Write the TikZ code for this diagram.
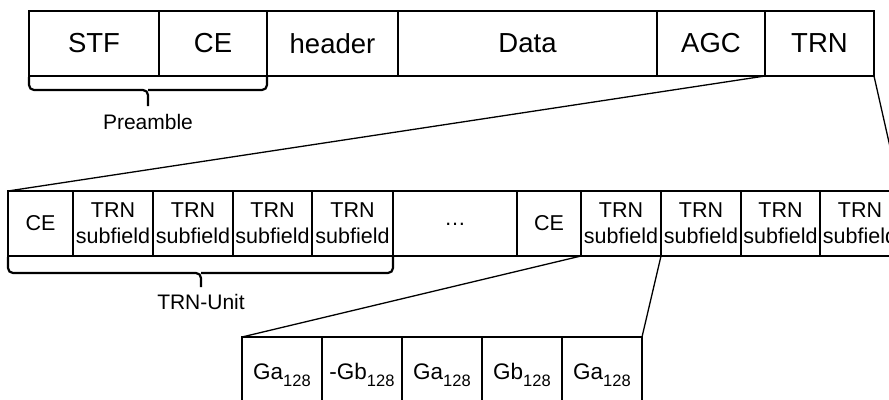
\documentclass[tikz,border=0pt]{standalone}
\usepackage{fontspec}
\setmainfont{Liberation Sans}
\newcommand{\sbs}[1]{\raisebox{-6.5pt}{\fontsize{16.5}{16.5}\selectfont #1}}
\begin{document}
\begin{tikzpicture}[x=1pt,y=-1pt,
  cell/.style={draw, line width=1.1pt, inner sep=0pt, outer sep=0pt,
    anchor=north west, minimum height=#1pt},
  topcell/.style={cell=65, font=\fontsize{27.5}{30}\selectfont},
  midcell/.style={cell=65, font=\fontsize{21.5}{26}\selectfont, align=center},
  lowcell/.style={cell=76, minimum width=80pt, font=\fontsize{22.5}{26}\selectfont},
  link/.style={line width=1.3pt},
  bracket/.style={line width=2.2pt, rounded corners=5pt},
  tag/.style={font=\fontsize{21}{24}\selectfont}]
\useasboundingbox (0,0) rectangle (889,399);
\clip (0,0) rectangle (889,399);

% frame
\node[topcell, minimum width=130pt] (stf)  at (29,11)  {STF};
\node[topcell, minimum width=108pt] (ce)   at (159,11) {CE};
\node[topcell, minimum width=131pt] (hdr)  at (267,11) {header};
\node[topcell, minimum width=259pt] (data) at (398,11) {Data};
\node[topcell, minimum width=108pt] (agc)  at (657,11) {AGC};
\node[topcell, minimum width=109pt] (trn)  at (765,11) {TRN};

% preamble bracket
\draw[bracket] (stf.south west) ++(0,1) |- (148,90) -- (148,106);
\draw[bracket] (ce.south east) ++(0,1) |- (148,90);
\node[tag] (pre) at (148,122) {Preamble};

% TRN field
\node[midcell, minimum width=65pt]  (mce1) at (8,191)   {CE};
\node[midcell, minimum width=80pt]  (s1)   at (73,191)  {TRN\\subfield};
\node[midcell, minimum width=80pt]  (s2)   at (153,191) {TRN\\subfield};
\node[midcell, minimum width=79pt]  (s3)   at (233,191) {TRN\\subfield};
\node[midcell, minimum width=81pt]  (s4)   at (312,191) {TRN\\subfield};
\node[midcell, minimum width=124pt] (dots) at (393,191) {\raisebox{-4pt}{…}};
\node[midcell, minimum width=64pt]  (mce2) at (517,191) {CE};
\node[midcell, minimum width=80pt]  (s5)   at (581,191) {TRN\\subfield};
\node[midcell, minimum width=80pt]  (s6)   at (661,191) {TRN\\subfield};
\node[midcell, minimum width=79pt]  (s7)   at (741,191) {TRN\\subfield};
\node[midcell, minimum width=80pt]  (s8)   at (820,191) {TRN\\subfield};

% TRN-Unit bracket
\draw[bracket] (mce1.south west) ++(0,1) |- (201,273) -- (201,287);
\draw[bracket] (s4.south east) ++(0,1) |- (201,273);
\node[tag] (unit) at (201,302) {TRN-Unit};

% subfield sequence
\node[lowcell] (g1) at (242,337) {Ga\sbs{128}};
\node[lowcell] (g2) at (322,337) {-Gb\sbs{128}};
\node[lowcell] (g3) at (402,337) {Ga\sbs{128}};
\node[lowcell] (g4) at (482,337) {Gb\sbs{128}};
\node[lowcell] (g5) at (562,337) {Ga\sbs{128}};

% zoom connectors
\draw[link] (trn.south west) -- (mce1.north west);
\draw[link] (trn.south east) -- (s8.north east);
\draw[link] (s5.south west) -- (g1.north west);
\draw[link] (s5.south east) -- (g5.north east);
\end{tikzpicture}
\end{document}
